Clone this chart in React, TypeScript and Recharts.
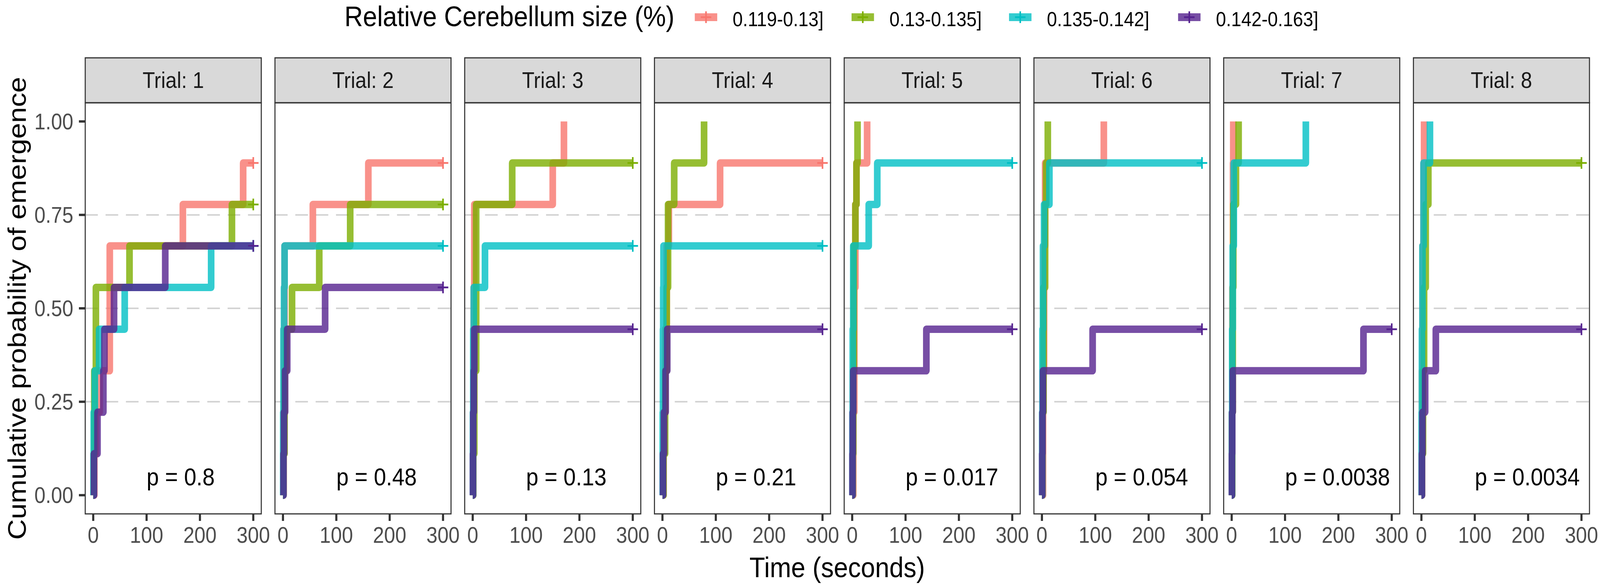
import React from 'react';
import { LineChart, Line, XAxis, YAxis, ReferenceLine, ReferenceDot } from 'recharts';

const FONT = '"Liberation Sans", Arial, Helvetica, sans-serif';

const TRIALS = ['Trial: 1', 'Trial: 2', 'Trial: 3', 'Trial: 4', 'Trial: 5', 'Trial: 6', 'Trial: 7', 'Trial: 8'];
const GROUPS = ['0.119-0.13]', '0.13-0.135]', '0.135-0.142]', '0.142-0.163]'];
const GROUP_COLORS = ['#F8766D', '#7CAE00', '#00BFC4', '#55228F'];
const P_LABELS = ['p = 0.8', 'p = 0.48', 'p = 0.13', 'p = 0.21', 'p = 0.017', 'p = 0.054', 'p = 0.0038', 'p = 0.0034'];
const X_TICKS = [0, 100, 200, 300];
const Y_TICKS = [0, 0.25, 0.5, 0.75, 1];
const GRID_Y = [0.25, 0.5, 0.75];
const END_TIME = 300;

// [time (s), cumulative probability] per group: red, green, teal, purple
type Step = [number, number];
const TRIAL_1: Step[][] = [
  [[0, 0], [2, 0.111], [5, 0.222], [12, 0.333], [31, 0.667], [168, 0.778], [281, 0.889]],
  [[0, 0], [1, 0.111], [2, 0.333], [5, 0.556], [68, 0.667], [260, 0.778]],
  [[0, 0], [0.5, 0.111], [1, 0.222], [3, 0.333], [11, 0.444], [59, 0.556], [221, 0.667]],
  [[0, 0], [1.5, 0.111], [8, 0.222], [19, 0.333], [21, 0.444], [39, 0.556], [135, 0.667]],
];
const TRIAL_2: Step[][] = [
  [[0, 0], [1, 0.222], [2, 0.444], [3, 0.667], [56, 0.778], [160, 0.889]],
  [[0, 0], [1, 0.111], [3, 0.333], [6, 0.444], [17, 0.556], [68, 0.667], [126, 0.778]],
  [[0, 0], [0.5, 0.222], [1, 0.444], [2, 0.556], [3, 0.667]],
  [[0, 0], [1, 0.111], [2, 0.222], [4, 0.333], [8, 0.444], [79, 0.556]],
];
const TRIAL_3: Step[][] = [
  [[0, 0], [1, 0.222], [2, 0.556], [3, 0.778], [150, 0.889], [171, 1]],
  [[0, 0], [1, 0.111], [3, 0.333], [6.5, 0.778], [74, 0.889]],
  [[0, 0], [0.5, 0.222], [1, 0.444], [2, 0.556], [23, 0.667]],
  [[0, 0], [0.5, 0.111], [1, 0.222], [2, 0.333], [3, 0.444]],
];
const TRIAL_4: Step[][] = [
  [[0, 0], [2, 0.222], [5, 0.444], [8, 0.667], [12, 0.778], [108, 0.889]],
  [[0, 0], [2, 0.111], [5, 0.333], [8, 0.556], [10.5, 0.778], [22, 0.889], [78, 1]],
  [[0, 0], [0.5, 0.222], [1, 0.444], [1.5, 0.556], [2, 0.667]],
  [[0, 0], [1, 0.111], [3, 0.222], [6, 0.333], [9, 0.444]],
];
const TRIAL_5: Step[][] = [
  [[0, 0], [2, 0.222], [4, 0.556], [6, 0.778], [8, 0.889], [28, 1]],
  [[0, 0], [1, 0.111], [2, 0.333], [3, 0.667], [6, 0.778], [8, 0.889], [10, 1]],
  [[0, 0], [0.5, 0.222], [1, 0.444], [2, 0.667], [31, 0.778], [47, 0.889]],
  [[0, 0], [0.5, 0.111], [1, 0.222], [2, 0.333], [139, 0.444]],
];
const TRIAL_6: Step[][] = [
  [[0, 0], [2, 0.333], [4, 0.667], [6, 0.889], [116, 1]],
  [[0, 0], [1, 0.222], [3, 0.556], [6, 0.778], [8, 0.889], [11, 1]],
  [[0, 0], [0.5, 0.222], [1, 0.444], [2, 0.667], [4, 0.778], [14, 0.889]],
  [[0, 0], [0.5, 0.111], [1, 0.222], [2, 0.333], [95, 0.444]],
];
const TRIAL_7: Step[][] = [
  [[0, 0], [0.5, 0.222], [1.5, 0.556], [2.5, 0.889], [3, 1]],
  [[0, 0], [1, 0.222], [2, 0.556], [3, 0.778], [8, 0.889], [13, 1]],
  [[0, 0], [0.5, 0.222], [1, 0.444], [2, 0.667], [4, 0.889], [139, 1]],
  [[0, 0], [0.5, 0.111], [1, 0.222], [2, 0.333], [247, 0.444]],
];
const TRIAL_8: Step[][] = [
  [[0, 0], [1, 0.333], [2, 0.667], [4, 0.889], [5, 1]],
  [[0, 0], [1, 0.111], [3, 0.333], [5, 0.556], [8, 0.778], [13, 0.889]],
  [[0, 0], [0.5, 0.222], [1, 0.444], [2, 0.667], [4, 0.889], [16, 1]],
  [[0, 0], [1, 0.111], [2, 0.222], [7, 0.333], [27, 0.444]],
];
const TRIAL_STEPS = [TRIAL_1, TRIAL_2, TRIAL_3, TRIAL_4, TRIAL_5, TRIAL_6, TRIAL_7, TRIAL_8];

// layout (pixels, in the 4562x1497 design space)
const W = 4562;
const H = 1497;
const PANEL_LEFT0 = 243;
const PANEL_PITCH = 541;
const PANEL_W = 502;
const PANEL_TOP = 263;
const PANEL_H = 1052;
const STRIP_TOP = 148;
const AXIS_H = 120;
const PAD = 40; // room for tick labels that stick out of the panel
const LEGEND_Y = 44; // centre line of the legend row
const LEGEND_KEYS_X = [1981, 2428, 2877, 3359];

type Pt = { t: number; v: number; censored?: boolean };

function toSeries(steps: Step[]): Pt[] {
  const pts: Pt[] = steps.map(([t, v]) => ({ t, v }));
  const last = pts[pts.length - 1];
  if (last.v < 1) pts.push({ t: END_TIME, v: last.v, censored: true });
  return pts;
}

function Plus({ x, y, color, size = 15 }: { x: number; y: number; color: string; size?: number }) {
  return (
    <g>
      <line x1={x - size} x2={x + size} y1={y} y2={y} stroke={color} strokeWidth={4.5} />
      <line x1={x} x2={x} y1={y - size} y2={y + size} stroke={color} strokeWidth={4.5} />
    </g>
  );
}

const censorDot = (color: string) => (props: any) => {
  const { cx, cy, payload, index } = props;
  if (!payload || !payload.censored) return <g key={`n-${index}`} />;
  return (
    <g key={`c-${index}`}>
      <Plus x={cx} y={cy} color={color} />
    </g>
  );
};

function Panel({ index }: { index: number }) {
  const first = index === 0;
  const yAxisW = first ? PANEL_LEFT0 : 0;
  const padL = first ? 0 : PAD;
  const left = first ? 0 : PANEL_LEFT0 + index * PANEL_PITCH - PAD;
  return (
    <div style={{ position: 'absolute', left, top: PANEL_TOP }}>
      <LineChart
        width={PANEL_W + yAxisW + padL + PAD}
        height={PANEL_H + AXIS_H}
        margin={{ top: 0, right: PAD, bottom: 0, left: padL }}
      >
        <XAxis
          type="number"
          dataKey="t"
          domain={[-15, 315]}
          ticks={X_TICKS}
          interval={0}
          allowDataOverflow
          height={AXIS_H}
          axisLine={false}
          tickSize={18}
          tickMargin={16}
          tickLine={{ stroke: '#333333', strokeWidth: 6 }}
          tick={{ fontSize: 57, fill: '#4D4D4D', fontFamily: FONT }}
        />
        <YAxis
          type="number"
          domain={[-0.05, 1.05]}
          ticks={Y_TICKS}
          interval={0}
          allowDataOverflow
          hide={!first}
          width={yAxisW}
          axisLine={false}
          tickSize={18}
          tickMargin={16}
          tickLine={{ stroke: '#333333', strokeWidth: 6 }}
          tick={{ fontSize: 57, fill: '#4D4D4D', fontFamily: FONT }}
          tickFormatter={(v: number) => v.toFixed(2)}
        />
        {GRID_Y.map((y) => (
          <ReferenceLine key={y} y={y} stroke="#D3D3D3" strokeWidth={4} strokeDasharray="36 22" />
        ))}
        {TRIAL_STEPS[index].map((steps, g) => (
          <Line
            key={GROUPS[g]}
            data={toSeries(steps)}
            dataKey="v"
            type="stepAfter"
            stroke={GROUP_COLORS[g]}
            strokeOpacity={0.8}
            strokeWidth={19}
            strokeLinejoin="round"
            dot={censorDot(GROUP_COLORS[g])}
            activeDot={false}
            isAnimationActive={false}
          />
        ))}
        <ReferenceDot
          x={100}
          y={0.026}
          r={1}
          fill="none"
          stroke="none"
          ifOverflow="visible"
          label={(props: any) => {
            const vb = props.viewBox || {};
            return (
              <text
                x={vb.x + (vb.width || 0) / 2}
                y={vb.y + (vb.height || 0) / 2}
                textAnchor="start"
                fontSize={63}
                fontFamily={FONT}
                fill="#000000"
              >
                {P_LABELS[index]}
              </text>
            );
          }}
        />
      </LineChart>
    </div>
  );
}

function Overlay() {
  return (
    <svg
      width={W}
      height={H}
      style={{ position: 'absolute', left: 0, top: 0, pointerEvents: 'none', overflow: 'visible' }}
      fontFamily={FONT}
    >
      {/* legend */}
      <text x={982} y={LEGEND_Y + 23} fontSize={73} fill="#000000">
        Relative Cerebellum size (%)
      </text>
      {GROUPS.map((g, i) => {
        const kx = LEGEND_KEYS_X[i];
        return (
          <g key={g}>
            <rect x={kx} y={LEGEND_Y - 10} width={64} height={20} fill={GROUP_COLORS[i]} fillOpacity={0.8} />
            <Plus x={kx + 32} y={LEGEND_Y} color={GROUP_COLORS[i]} />
            <text x={kx + 108} y={LEGEND_Y + 23} fontSize={52} fill="#000000">
              {g}
            </text>
          </g>
        );
      })}
      {/* strips and panel borders */}
      {TRIALS.map((label, i) => {
        const x = PANEL_LEFT0 + i * PANEL_PITCH;
        return (
          <g key={label}>
            <rect x={x} y={STRIP_TOP} width={PANEL_W} height={PANEL_TOP - STRIP_TOP} fill="#D9D9D9" stroke="#333333" strokeWidth={3} />
            <text x={x + PANEL_W / 2} y={225} fontSize={58} textAnchor="middle" fill="#1A1A1A">
              {label}
            </text>
            <rect x={x} y={PANEL_TOP} width={PANEL_W} height={PANEL_H} fill="none" stroke="#333333" strokeWidth={3} />
          </g>
        );
      })}
      {/* axis titles */}
      <text
        x={0}
        y={0}
        transform={`translate(73, ${PANEL_TOP + PANEL_H / 2}) rotate(-90)`}
        fontSize={73}
        textAnchor="middle"
        fill="#000000"
      >
        Cumulative probability of emergence
      </text>
      <text x={2387} y={1477} fontSize={73} textAnchor="middle" fill="#000000">
        Time (seconds)
      </text>
    </svg>
  );
}

export default function App() {
  // the viewport can be narrower than the design size, so fit the whole figure into it
  const [view, setView] = React.useState({ w: W, h: H });
  React.useLayoutEffect(() => {
    const read = () => setView({ w: window.innerWidth || W, h: window.innerHeight || H });
    read();
    window.addEventListener('resize', read);
    return () => window.removeEventListener('resize', read);
  }, []);
  const sx = view.w / W;
  const sy = view.h / H;
  return (
    <div
      style={{
        position: 'fixed',
        left: 0,
        top: 0,
        width: W,
        height: H,
        background: '#FFFFFF',
        overflow: 'hidden',
        transform: `scale(${sx}, ${sy})`,
        transformOrigin: '0 0',
      }}
    >
      {TRIALS.map((t, i) => (
        <Panel key={t} index={i} />
      ))}
      <Overlay />
    </div>
  );
}
